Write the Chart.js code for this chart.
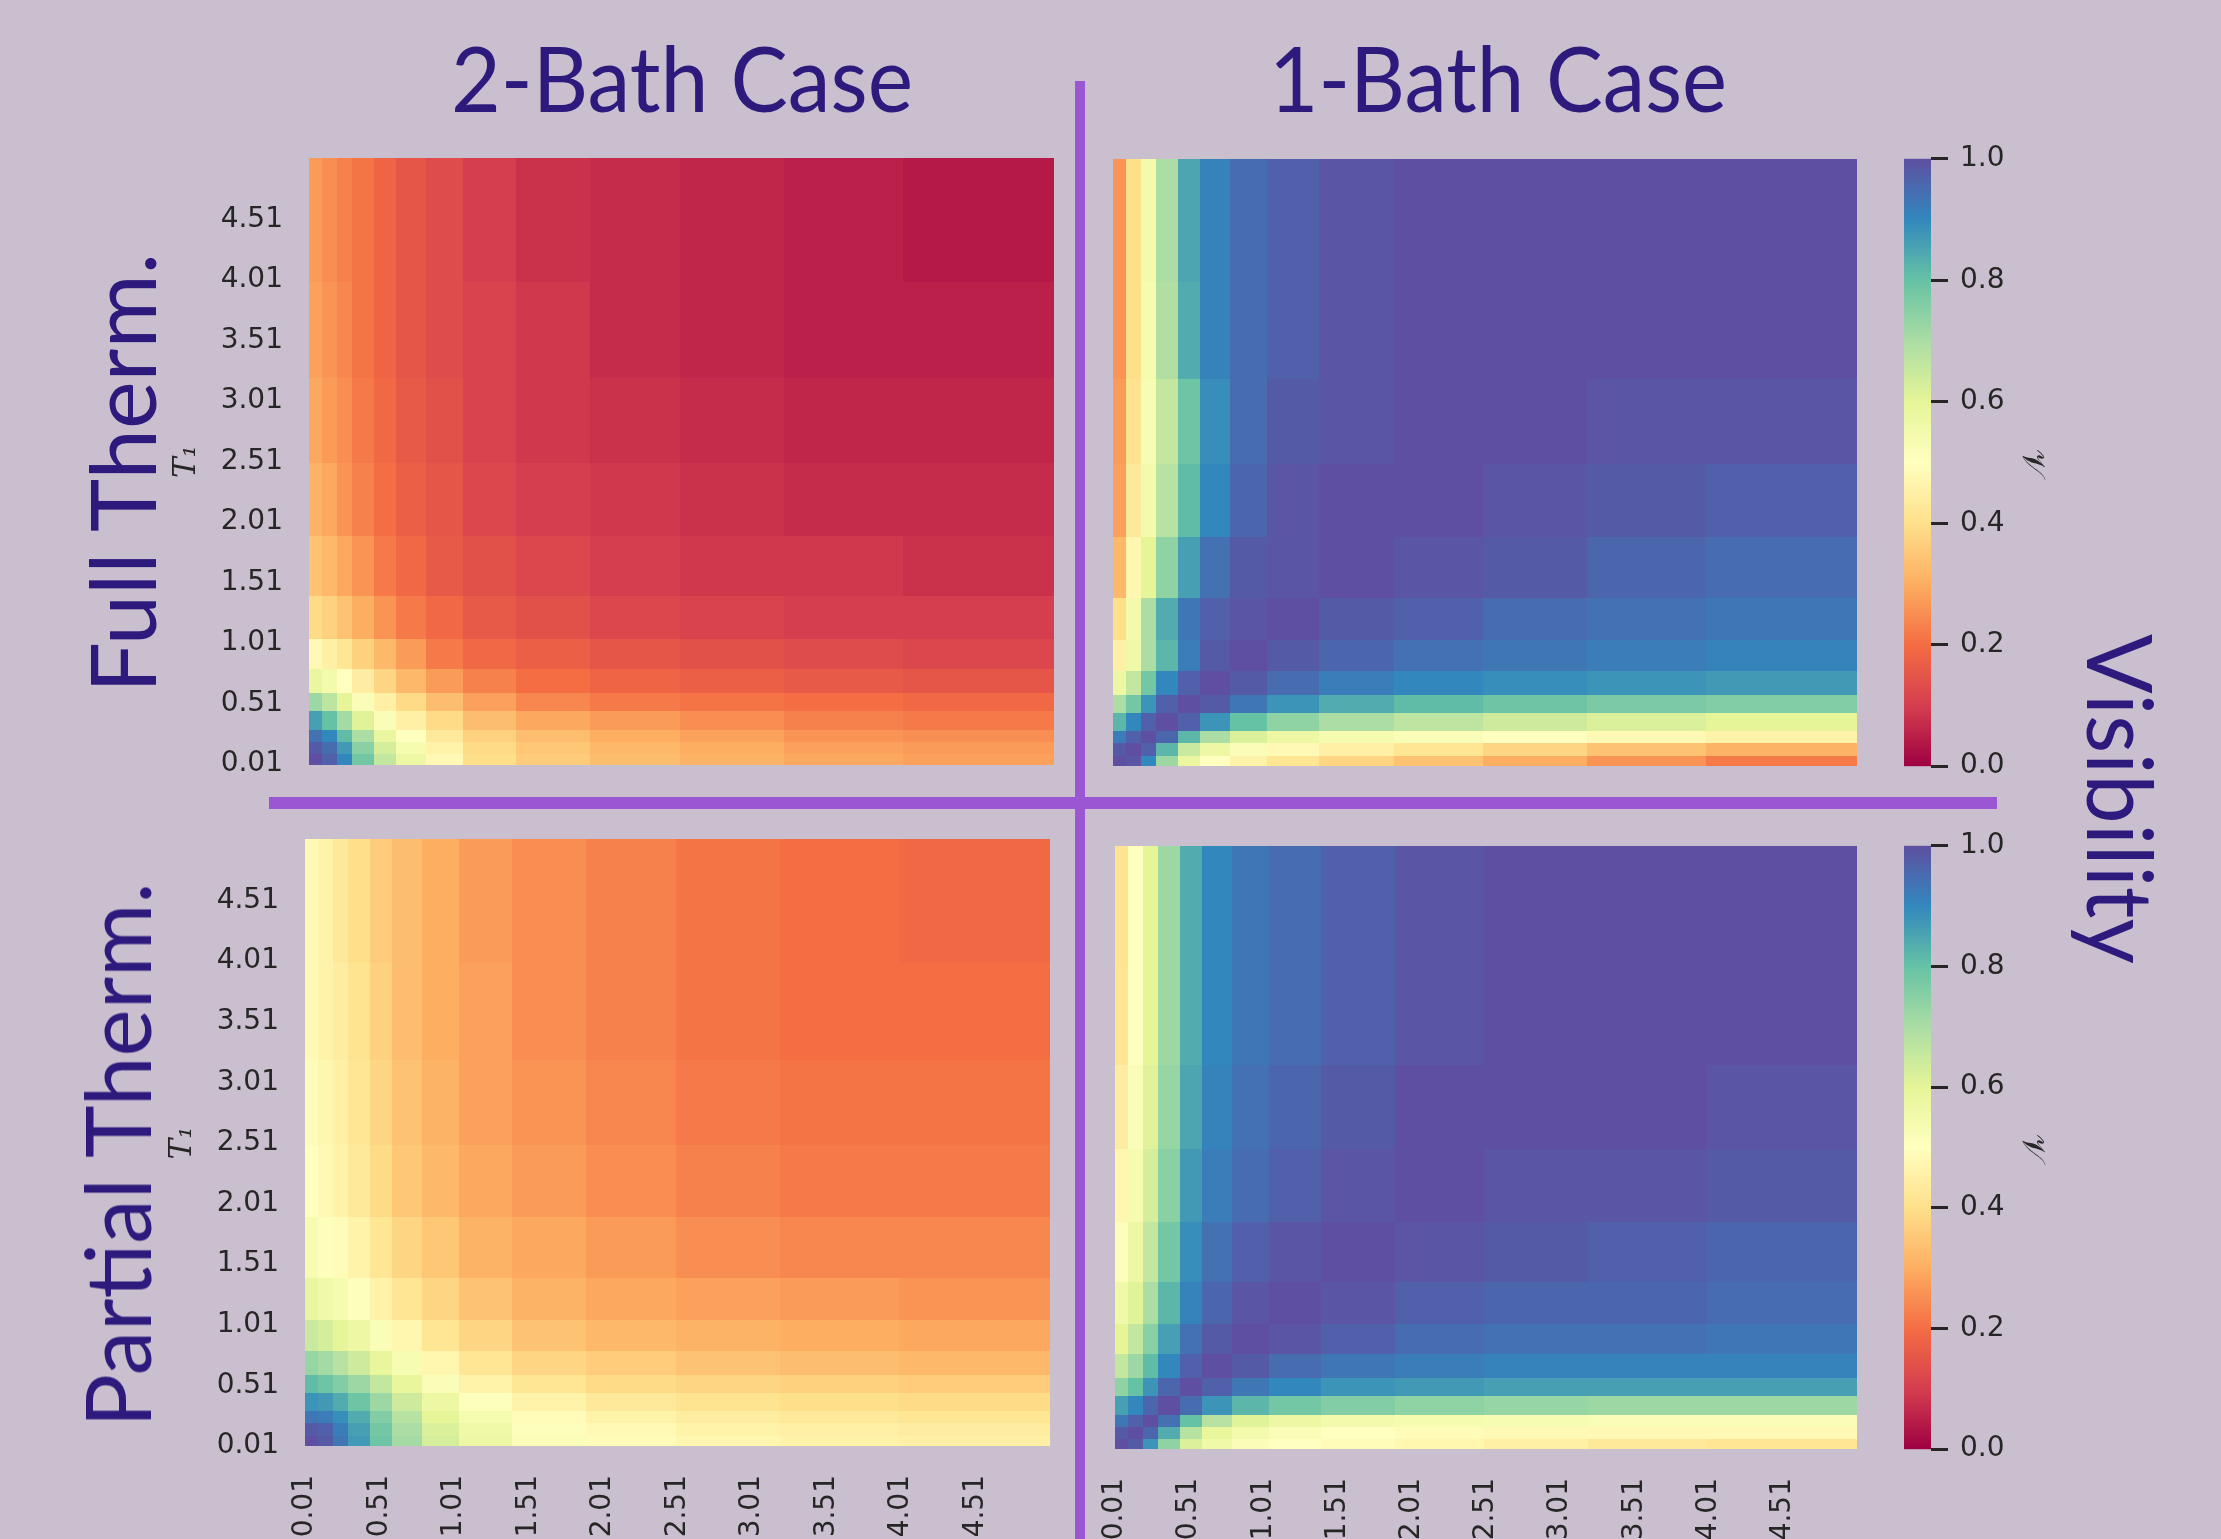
<!DOCTYPE html>
<html>
<head>
<meta charset="utf-8">
<script src="https://cdn.jsdelivr.net/npm/chart.js@4.4.1/dist/chart.umd.min.js"></script>
<style>
  html, body { margin: 0; padding: 0; }
  body { width: 2221px; height: 1539px; background: #c9bfcf; position: relative; overflow: hidden; }
  canvas { position: absolute; }
  .big { position: absolute; font-family: Lato, sans-serif; font-size: 92px; line-height: 1; color: #2d1a7c; white-space: nowrap; }
  .bar { position: absolute; background: #9b56d4; }
</style>
</head>
<body>
<div class="bar" style="left:1075px; top:81px; width:10px; height:1460px"></div>
<div class="bar" style="left:269px; top:797px; width:1728px; height:12px"></div>
<script>
// cell boundaries, same on both axes (T1 and T2)
const cellEdges = [0.01, 0.1, 0.2, 0.3, 0.45, 0.6, 0.8, 1.05, 1.4, 1.9, 2.5, 3.2, 4.0, 5.01];
const tickValues = [0.01, 0.51, 1.01, 1.51, 2.01, 2.51, 3.01, 3.51, 4.01, 4.51];
const tickLabels = ['0.01', '0.51', '1.01', '1.51', '2.01', '2.51', '3.01', '3.51', '4.01', '4.51'];
const colorbarTicks = [0, 0.2, 0.4, 0.6, 0.8, 1.0];
const colorbarLabels = ['0.0', '0.2', '0.4', '0.6', '0.8', '1.0'];

// visibility grids, rows from bottom (T1 = 0.01) to top, columns left to right
const fullTwoBath = [
  [1.00, 0.97, 0.90, 0.78, 0.66, 0.57, 0.48, 0.40, 0.36, 0.33, 0.31, 0.29, 0.28],
  [0.98, 0.95, 0.87, 0.75, 0.63, 0.54, 0.46, 0.39, 0.35, 0.32, 0.30, 0.28, 0.27],
  [0.94, 0.90, 0.81, 0.70, 0.58, 0.50, 0.43, 0.37, 0.33, 0.30, 0.28, 0.26, 0.25],
  [0.86, 0.80, 0.71, 0.61, 0.52, 0.45, 0.39, 0.33, 0.29, 0.27, 0.25, 0.23, 0.22],
  [0.72, 0.67, 0.60, 0.52, 0.45, 0.39, 0.33, 0.28, 0.24, 0.22, 0.21, 0.20, 0.19],
  [0.58, 0.55, 0.50, 0.44, 0.38, 0.32, 0.27, 0.23, 0.20, 0.18, 0.17, 0.16, 0.15],
  [0.48, 0.45, 0.42, 0.37, 0.32, 0.27, 0.22, 0.19, 0.17, 0.15, 0.14, 0.13, 0.12],
  [0.39, 0.37, 0.34, 0.30, 0.26, 0.22, 0.19, 0.16, 0.14, 0.12, 0.11, 0.10, 0.10],
  [0.34, 0.32, 0.29, 0.26, 0.22, 0.19, 0.16, 0.14, 0.12, 0.10, 0.09, 0.09, 0.08],
  [0.31, 0.29, 0.26, 0.23, 0.20, 0.17, 0.15, 0.12, 0.10, 0.09, 0.08, 0.07, 0.07],
  [0.29, 0.27, 0.25, 0.22, 0.19, 0.16, 0.14, 0.11, 0.09, 0.08, 0.07, 0.06, 0.06],
  [0.28, 0.26, 0.24, 0.21, 0.18, 0.15, 0.13, 0.11, 0.09, 0.07, 0.06, 0.05, 0.05],
  [0.27, 0.25, 0.23, 0.21, 0.18, 0.15, 0.13, 0.10, 0.08, 0.07, 0.06, 0.05, 0.04]
];
const fullOneBath = [
  [1.00, 0.99, 0.90, 0.72, 0.58, 0.50, 0.46, 0.42, 0.38, 0.34, 0.30, 0.26, 0.22],
  [0.98, 1.00, 0.97, 0.82, 0.65, 0.57, 0.52, 0.48, 0.45, 0.42, 0.38, 0.34, 0.31],
  [0.92, 0.97, 1.00, 0.96, 0.82, 0.70, 0.62, 0.57, 0.54, 0.52, 0.50, 0.48, 0.46],
  [0.82, 0.90, 0.97, 1.00, 0.97, 0.88, 0.80, 0.74, 0.70, 0.67, 0.64, 0.62, 0.60],
  [0.70, 0.78, 0.88, 0.97, 1.00, 0.98, 0.93, 0.88, 0.84, 0.81, 0.79, 0.77, 0.76],
  [0.57, 0.66, 0.78, 0.90, 0.97, 1.00, 0.98, 0.95, 0.92, 0.90, 0.89, 0.88, 0.87],
  [0.45, 0.56, 0.70, 0.82, 0.92, 0.98, 1.00, 0.98, 0.96, 0.94, 0.93, 0.92, 0.91],
  [0.40, 0.55, 0.70, 0.84, 0.93, 0.97, 0.99, 1.00, 0.98, 0.97, 0.95, 0.94, 0.93],
  [0.32, 0.47, 0.60, 0.74, 0.86, 0.94, 0.98, 0.99, 1.00, 0.99, 0.98, 0.96, 0.95],
  [0.28, 0.43, 0.55, 0.68, 0.81, 0.90, 0.96, 0.99, 1.00, 1.00, 0.99, 0.98, 0.97],
  [0.27, 0.41, 0.53, 0.66, 0.79, 0.89, 0.95, 0.98, 0.99, 1.00, 1.00, 0.99, 0.99],
  [0.26, 0.40, 0.54, 0.69, 0.84, 0.91, 0.95, 0.97, 0.99, 1.00, 1.00, 1.00, 1.00],
  [0.26, 0.40, 0.55, 0.70, 0.85, 0.91, 0.95, 0.97, 0.99, 1.00, 1.00, 1.00, 1.00]
];
const partialTwoBath = [
  [1.00, 0.98, 0.93, 0.87, 0.79, 0.71, 0.63, 0.57, 0.52, 0.49, 0.47, 0.46, 0.45],
  [0.98, 0.97, 0.92, 0.86, 0.78, 0.70, 0.62, 0.56, 0.51, 0.48, 0.46, 0.45, 0.44],
  [0.93, 0.92, 0.89, 0.84, 0.76, 0.68, 0.60, 0.54, 0.49, 0.46, 0.44, 0.43, 0.42],
  [0.88, 0.87, 0.84, 0.79, 0.72, 0.64, 0.57, 0.51, 0.46, 0.43, 0.41, 0.40, 0.39],
  [0.81, 0.79, 0.76, 0.72, 0.66, 0.59, 0.52, 0.46, 0.42, 0.39, 0.38, 0.37, 0.36],
  [0.73, 0.71, 0.68, 0.64, 0.59, 0.53, 0.47, 0.42, 0.38, 0.36, 0.34, 0.33, 0.32],
  [0.65, 0.63, 0.60, 0.57, 0.52, 0.47, 0.42, 0.38, 0.34, 0.32, 0.31, 0.30, 0.29],
  [0.58, 0.56, 0.54, 0.51, 0.46, 0.42, 0.38, 0.34, 0.31, 0.29, 0.28, 0.27, 0.26],
  [0.53, 0.51, 0.49, 0.46, 0.42, 0.38, 0.35, 0.31, 0.29, 0.27, 0.25, 0.24, 0.24],
  [0.50, 0.48, 0.46, 0.43, 0.39, 0.35, 0.32, 0.29, 0.27, 0.25, 0.23, 0.22, 0.22],
  [0.49, 0.47, 0.45, 0.42, 0.38, 0.34, 0.31, 0.28, 0.26, 0.24, 0.22, 0.21, 0.21],
  [0.48, 0.46, 0.44, 0.41, 0.37, 0.33, 0.30, 0.28, 0.25, 0.23, 0.21, 0.20, 0.20],
  [0.48, 0.46, 0.43, 0.40, 0.36, 0.33, 0.30, 0.27, 0.25, 0.23, 0.21, 0.20, 0.19]
];
const partialOneBath = [
  [1.00, 0.98, 0.88, 0.74, 0.62, 0.56, 0.52, 0.50, 0.49, 0.47, 0.45, 0.43, 0.42],
  [0.98, 1.00, 0.96, 0.84, 0.68, 0.59, 0.55, 0.52, 0.50, 0.49, 0.48, 0.48, 0.48],
  [0.93, 0.97, 1.00, 0.94, 0.80, 0.68, 0.61, 0.57, 0.55, 0.54, 0.53, 0.52, 0.52],
  [0.86, 0.90, 0.96, 1.00, 0.95, 0.88, 0.82, 0.78, 0.76, 0.74, 0.73, 0.72, 0.72],
  [0.74, 0.80, 0.88, 0.96, 1.00, 0.97, 0.93, 0.90, 0.88, 0.87, 0.86, 0.86, 0.86],
  [0.66, 0.72, 0.81, 0.90, 0.97, 1.00, 0.98, 0.95, 0.93, 0.92, 0.91, 0.91, 0.91],
  [0.60, 0.66, 0.75, 0.86, 0.94, 0.98, 1.00, 0.99, 0.97, 0.95, 0.94, 0.94, 0.93],
  [0.56, 0.61, 0.70, 0.82, 0.91, 0.96, 0.99, 1.00, 0.99, 0.97, 0.96, 0.96, 0.95],
  [0.51, 0.57, 0.66, 0.78, 0.89, 0.94, 0.97, 0.99, 1.00, 0.99, 0.98, 0.97, 0.96],
  [0.47, 0.54, 0.63, 0.75, 0.87, 0.92, 0.95, 0.97, 0.99, 1.00, 0.99, 0.99, 0.98],
  [0.44, 0.52, 0.61, 0.73, 0.85, 0.91, 0.94, 0.96, 0.98, 1.00, 1.00, 1.00, 0.99],
  [0.42, 0.50, 0.60, 0.72, 0.84, 0.90, 0.93, 0.95, 0.97, 0.99, 1.00, 1.00, 1.00],
  [0.41, 0.50, 0.60, 0.72, 0.84, 0.90, 0.93, 0.95, 0.97, 0.99, 1.00, 1.00, 1.00]
];

// matplotlib "Spectral" colormap anchors
const spectralStops = [
  [158, 1, 66], [213, 62, 79], [244, 109, 67], [253, 174, 97], [254, 224, 139],
  [255, 255, 191], [230, 245, 152], [171, 221, 164], [102, 194, 165], [50, 136, 189], [94, 79, 162]
];

function spectral(v) {
  const t = Math.min(1, Math.max(0, v)) * 10;
  const i = Math.min(9, Math.floor(t)), f = t - i;
  const a = spectralStops[i], b = spectralStops[i + 1];
  const c = a.map((ch, k) => Math.round(ch + (b[k] - ch) * f));
  return `rgb(${c[0]},${c[1]},${c[2]})`;
}

const tickFont = { family: "'DejaVu Sans'", size: 28 };
const tickColor = '#262626';

const heatPlugin = {
  id: 'heat',
  beforeDatasetsDraw(chart, args, opts) {
    const { ctx, scales: { x, y } } = chart;
    opts.values.forEach((row, j) => {
      const yb = y.getPixelForValue(cellEdges[j]), yt = y.getPixelForValue(cellEdges[j + 1]);
      row.forEach((v, i) => {
        const xl = x.getPixelForValue(cellEdges[i]), xr = x.getPixelForValue(cellEdges[i + 1]);
        ctx.fillStyle = spectral(v);
        ctx.fillRect(Math.floor(xl), Math.floor(yt), Math.ceil(xr) - Math.floor(xl), Math.ceil(yb) - Math.floor(yt));
      });
    });
  }
};

const colorbarPlugin = {
  id: 'cbar',
  beforeDatasetsDraw(chart) {
    const { ctx, chartArea: ca, scales: { y } } = chart;
    const g = ctx.createLinearGradient(0, y.getPixelForValue(0), 0, y.getPixelForValue(1));
    spectralStops.forEach((c, i) => g.addColorStop(i / 10, `rgb(${c[0]},${c[1]},${c[2]})`));
    ctx.fillStyle = g;
    ctx.fillRect(ca.left, ca.top, ca.right - ca.left, ca.bottom - ca.top);
  }
};

// build a chart, then grow the canvas until the plot area has the wanted size, then move it into place
function placeChart(box, w, h, makeConfig) {
  let canvas, chart;
  for (let pass = 0; pass < 4; pass++) {
    if (chart) { chart.destroy(); canvas.remove(); }
    canvas = document.createElement('canvas');
    canvas.width = w;
    canvas.height = h;
    document.body.appendChild(canvas);
    chart = new Chart(canvas, makeConfig());
    const ca = chart.chartArea;
    const dw = Math.round(box.w - (ca.right - ca.left));
    const dh = Math.round(box.h - (ca.bottom - ca.top));
    if (!dw && !dh) break;
    w += dw;
    h += dh;
  }
  const ca = chart.chartArea;
  canvas.style.left = (box.x - ca.left) + 'px';
  canvas.style.top = (box.y - ca.top) + 'px';
}

function makeHeatmap(box, values, showX, showY) {
  const yW = showY ? 141 : 0, xH = showX ? 120 : 0;
  const pad = { left: 25, right: 25, top: 25, bottom: showX ? 0 : 25 };
  const axisTicks = s => { s.ticks = tickValues.map(v => ({ value: v })); };
  placeChart(box, pad.left + yW + box.w + pad.right, pad.top + box.h + xH + pad.bottom, () => ({
    type: 'scatter',
    data: { datasets: [] },
    plugins: [heatPlugin],
    options: {
      responsive: false,
      animation: false,
      layout: { padding: pad },
      plugins: { legend: { display: false }, tooltip: { enabled: false }, heat: { values } },
      scales: {
        x: {
          type: 'linear', min: 0.01, max: 5.01, display: showX,
          afterBuildTicks: axisTicks,
          afterFit: s => { s.height = xH; },
          grid: { display: false, drawTicks: false },
          border: { display: false },
          ticks: { autoSkip: false, minRotation: 90, maxRotation: 90, padding: 29, font: tickFont, color: tickColor,
                   callback: (v, i) => tickLabels[i] }
        },
        y: {
          type: 'linear', min: 0.01, max: 5.01, display: showY,
          afterBuildTicks: axisTicks,
          afterFit: s => { s.width = yW; },
          grid: { display: false, drawTicks: false },
          border: { display: false },
          ticks: { autoSkip: false, padding: 26, font: tickFont, color: tickColor,
                   callback: (v, i) => tickLabels[i] },
          title: { display: true, text: 'T₁', color: tickColor, padding: { top: 0, bottom: 4 },
                   font: { family: "'DejaVu Serif'", style: 'italic', size: 31 } }
        }
      }
    }
  }));
}

function makeColorbar(box) {
  const axisW = 122;
  placeChart(box, box.w + axisW, box.h + 50, () => ({
    type: 'scatter',
    data: { datasets: [] },
    plugins: [colorbarPlugin],
    options: {
      responsive: false,
      animation: false,
      layout: { padding: { left: 0, right: 0, top: 25, bottom: 25 } },
      plugins: { legend: { display: false }, tooltip: { enabled: false } },
      scales: {
        x: { type: 'linear', min: 0, max: 1, display: false },
        y: {
          type: 'linear', position: 'right', min: 0, max: 1,
          afterBuildTicks: s => { s.ticks = colorbarTicks.map(v => ({ value: v })); },
          afterFit: s => { s.width = axisW; },
          grid: { drawOnChartArea: false, drawTicks: true, tickLength: 17, color: '#262626', lineWidth: 3 },
          border: { display: false },
          ticks: { padding: 12, font: tickFont, color: tickColor, callback: (v, i) => colorbarLabels[i] },
          title: { display: true, text: '𝒱', color: tickColor, padding: { top: 2, bottom: 4 },
                   font: { family: "'DejaVu Serif'", size: 32 } }
        }
      }
    }
  }));
}

function bigText(text, cx, cy, len, angle) {
  const el = document.createElement('div');
  el.className = 'big';
  el.textContent = text;
  document.body.appendChild(el);
  const k = len / el.getBoundingClientRect().width;
  el.style.left = cx + 'px';
  el.style.top = cy + 'px';
  el.style.transform = `translate(-50%, -50%) rotate(${angle}deg) scaleX(${k})`;
}

makeHeatmap({ x: 309, y: 159, w: 745, h: 605 }, fullTwoBath, false, true);
makeHeatmap({ x: 1113, y: 159, w: 744, h: 607 }, fullOneBath, false, false);
makeHeatmap({ x: 305, y: 840, w: 745, h: 606 }, partialTwoBath, true, true);
makeHeatmap({ x: 1115, y: 846, w: 742, h: 603 }, partialOneBath, true, false);
makeColorbar({ x: 1904, y: 159, w: 27, h: 607 });
makeColorbar({ x: 1904, y: 846, w: 27, h: 603 });

bigText('2-Bath Case', 682, 77, 462, 0);
bigText('1-Bath Case', 1498, 77, 458, 0);
bigText('Full Therm.', 121, 473, 440, -90);
bigText('Partial Therm.', 116, 1155, 545, -90);
bigText('Visibility', 2122, 799, 330, 90);
</script>
</body>
</html>
